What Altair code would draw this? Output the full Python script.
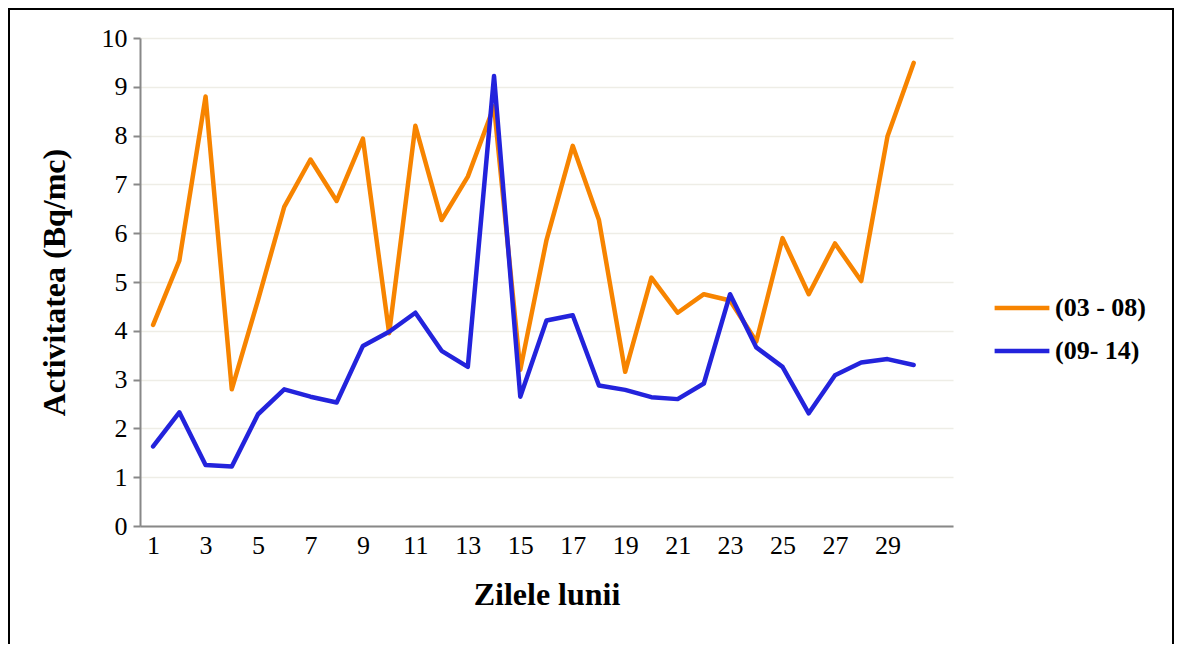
import altair as alt
import pandas as pd

days = list(range(1, 31))
series_a_name = "(03 - 08)"
series_b_name = "(09- 14)"
series_a = [4.12, 5.44, 8.80, 2.80, 4.63, 6.54, 7.51, 6.66, 7.94, 3.95,
            8.20, 6.27, 7.16, 8.60, 3.20, 5.86, 7.79, 6.27, 3.16, 5.09,
            4.37, 4.75, 4.62, 3.78, 5.90, 4.75, 5.79, 5.02, 7.98, 9.49]
series_b = [1.63, 2.33, 1.25, 1.22, 2.29, 2.80, 2.65, 2.53, 3.69, 3.98,
            4.37, 3.59, 3.26, 9.22, 2.65, 4.21, 4.32, 2.88, 2.79, 2.64,
            2.60, 2.92, 4.75, 3.66, 3.26, 2.31, 3.09, 3.35, 3.42, 3.30]
x_ticks = list(range(1, 30, 2))
y_ticks = list(range(0, 11))

rows = []
for d, v in zip(days, series_a):
    rows.append({"day": d, "value": v, "series": series_a_name})
for d, v in zip(days, series_b):
    rows.append({"day": d, "value": v, "series": series_b_name})
df = pd.DataFrame(rows)

FONT = "Liberation Serif"
W, H = 813, 488
PL, PT = 132, 30
TOTAL_W, TOTAL_H = 1166, 636

lines = alt.Chart(df).mark_line(strokeWidth=4.5, strokeJoin="round", strokeCap="round").encode(
    x=alt.X("day:Q",
            scale=alt.Scale(domain=[0.5, 31.5], nice=False, zero=False),
            axis=alt.Axis(values=x_ticks, title="Zilele lunii", grid=False, ticks=False,
                          domainColor="#888888", domainWidth=2,
                          labelFont=FONT, labelFontSize=26, labelColor="black", labelPadding=6,
                          titleFont=FONT, titleFontSize=32, titleFontWeight="bold",
                          titleColor="black", titlePadding=21)),
    y=alt.Y("value:Q",
            scale=alt.Scale(domain=[0, 10], nice=False),
            axis=alt.Axis(values=y_ticks, title="Activitatea (Bq/mc)", grid=True,
                          gridColor="#EEEDE6", gridWidth=1.5,
                          domainColor="#888888", domainWidth=2,
                          tickColor="#888888", tickSize=7, tickWidth=2,
                          labelFont=FONT, labelFontSize=26, labelColor="black", labelPadding=6,
                          titleFont=FONT, titleFontSize=32, titleFontWeight="bold",
                          titleColor="black", titlePadding=30)),
    color=alt.Color("series:N",
                    scale=alt.Scale(domain=[series_a_name, series_b_name],
                                    range=["#F78400", "#2323DC"]),
                    legend=alt.Legend(title=None, orient="none", legendX=852, legendY=240,
                                      symbolType="stroke", symbolSize=3000,
                                      symbolStrokeWidth=4.5, labelFont=FONT,
                                      labelFontSize=26, labelFontWeight="bold",
                                      labelColor="black", labelOffset=3, rowPadding=-3)),
)

border = alt.Chart(pd.DataFrame({"k": [0]})).mark_rect(
    fillOpacity=0, stroke="black", strokeWidth=2
).encode(
    x=alt.value(-PL + 1), x2=alt.value(TOTAL_W - PL - 1),
    y=alt.value(-PT + 1), y2=alt.value(TOTAL_H + 40),
)

chart = alt.layer(lines, border).properties(
    width=W, height=H,
    autosize=alt.AutoSizeParams(type="none"),
    padding={"left": PL, "top": PT, "right": TOTAL_W - PL - W, "bottom": TOTAL_H - PT - H},
).configure_view(stroke=None)

chart.save("out.html", embed_options={"renderer": "svg", "actions": False})
